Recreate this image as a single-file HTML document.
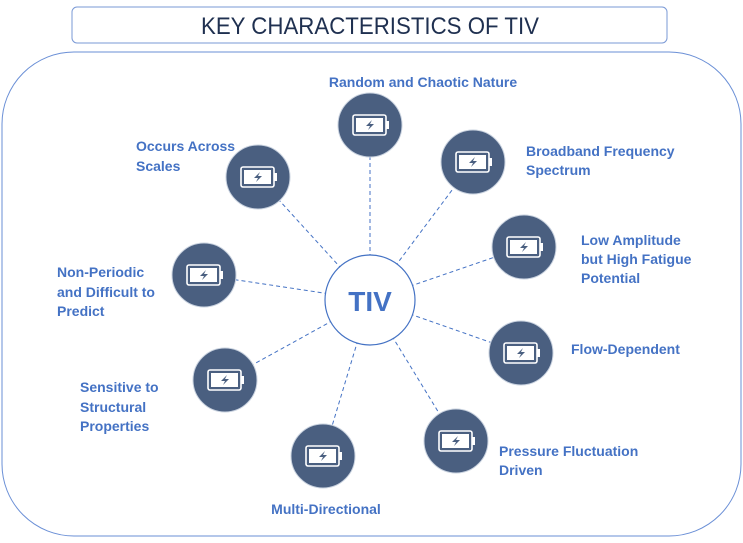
<!DOCTYPE html>
<html><head><style>
body{margin:0;background:#fff;}
svg text{font-family:"Liberation Sans",sans-serif;}
</style></head><body>
<svg width="743" height="538" xmlns="http://www.w3.org/2000/svg">
<defs>
<g id="bat">
<circle r="32" fill="#4a5f80" stroke="#c9d2df" stroke-width="1"/>
<rect x="-17" y="-10" width="33" height="20" rx="2" fill="none" stroke="#fff" stroke-width="1.6"/>
<rect x="-14" y="-7" width="27" height="14" fill="#fff"/>
<rect x="16" y="-4" width="3" height="8" fill="#fff"/>
<path d="M2,-5 L-4,1 L0,1 L-2,5 L4,-1 L0,-1 Z" fill="#4a5f80"/>
</g>
</defs>
<rect x="72" y="7" width="595" height="36" rx="5" fill="#fff" stroke="#7a99d6" stroke-width="1"/>
<text x="370" y="34" text-anchor="middle" font-size="24" fill="#1f3050" textLength="338" lengthAdjust="spacingAndGlyphs">KEY CHARACTERISTICS OF TIV</text>
<rect x="2" y="52" width="739" height="484" rx="72" fill="none" stroke="#6a8fd6" stroke-width="1"/>
<g stroke="#4472c4" stroke-width="1" stroke-dasharray="4,3">
<line x1="370" y1="300" x2="370" y2="125"/>
<line x1="370" y1="300" x2="258" y2="177"/>
<line x1="370" y1="300" x2="473" y2="162"/>
<line x1="370" y1="300" x2="524" y2="247"/>
<line x1="370" y1="300" x2="204" y2="275"/>
<line x1="370" y1="300" x2="521" y2="353"/>
<line x1="370" y1="300" x2="225" y2="380"/>
<line x1="370" y1="300" x2="456" y2="441"/>
<line x1="370" y1="300" x2="323" y2="456"/>
</g>
<circle cx="370" cy="300" r="45" fill="#fff" stroke="#4472c4" stroke-width="1.2"/>
<text x="370" y="311" text-anchor="middle" font-size="28" font-weight="bold" fill="#4472c4">TIV</text>
<use href="#bat" x="370" y="125"/>
<use href="#bat" x="258" y="177"/>
<use href="#bat" x="473" y="162"/>
<use href="#bat" x="524" y="247"/>
<use href="#bat" x="204" y="275"/>
<use href="#bat" x="521" y="353"/>
<use href="#bat" x="225" y="380"/>
<use href="#bat" x="456" y="441"/>
<use href="#bat" x="323" y="456"/>
<g font-size="14" font-weight="bold" fill="#4472c4">
<text x="423" y="87" text-anchor="middle">Random and Chaotic Nature</text>
<text x="136" y="151">Occurs Across</text><text x="136" y="171">Scales</text>
<text x="526" y="156">Broadband Frequency</text><text x="526" y="175">Spectrum</text>
<text x="581" y="245">Low Amplitude</text><text x="581" y="264">but High Fatigue</text><text x="581" y="283">Potential</text>
<text x="57" y="277">Non-Periodic</text><text x="57" y="297">and Difficult to</text><text x="57" y="316">Predict</text>
<text x="571" y="354">Flow-Dependent</text>
<text x="80" y="392">Sensitive to</text><text x="80" y="412">Structural</text><text x="80" y="431">Properties</text>
<text x="499" y="456">Pressure Fluctuation</text><text x="499" y="475">Driven</text>
<text x="326" y="514" text-anchor="middle">Multi-Directional</text>
</g>
</svg>
</body></html>
